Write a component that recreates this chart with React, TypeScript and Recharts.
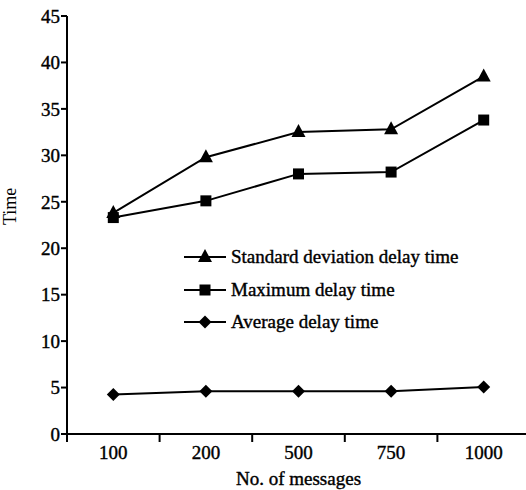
import { LineChart, Line, XAxis, YAxis, Legend } from "recharts"

const messages = ["100", "200", "500", "750", "1000"]
const stdDevDelay = [23.8, 29.8, 32.5, 32.8, 38.5]
const maxDelay = [23.3, 25.1, 28.0, 28.2, 33.8]
const avgDelay = [4.25, 4.6, 4.6, 4.6, 5.05]
const yTicks = [0, 5, 10, 15, 20, 25, 30, 35, 40, 45]

const series = [
  { key: "std", name: "Standard deviation delay time", shape: "triangle" },
  { key: "max", name: "Maximum delay time", shape: "square" },
  { key: "avg", name: "Average delay time", shape: "diamond" },
]

const data = messages.map((m, i) => ({
  messages: m,
  std: stdDevDelay[i],
  max: maxDelay[i],
  avg: avgDelay[i],
}))

const W = 530
const H = 490
const M = { top: 16, right: 0, bottom: 0, left: 0 }
const Y_W = 67
const X_H = 56
const FONT = "'Liberation Serif', 'Times New Roman', serif"
const band = (W - M.left - Y_W - M.right) / messages.length
const axisY = H - M.bottom - X_H
const heavy = { stroke: "#000", strokeWidth: 0.4 }

// marker glyph drawn around (cx, cy)
function Marker({ cx, cy, shape }: { cx: number; cy: number; shape: string }) {
  let d = ""
  if (shape === "triangle") d = `M${cx},${cy - 8}L${cx + 7},${cy + 5}L${cx - 7},${cy + 5}Z`
  else if (shape === "square") d = `M${cx - 5.5},${cy - 5.5}h11v11h-11Z`
  else d = `M${cx},${cy - 6.5}L${cx + 6.5},${cy}L${cx},${cy + 6.5}L${cx - 6.5},${cy}Z`
  return <path d={d} fill="#000" />
}

function XTick(props: any) {
  const { x, payload, index } = props
  return (
    <g>
      {index === 0 && <line x1={x - band / 2} x2={x - band / 2} y1={axisY} y2={axisY + 8} stroke="#000" strokeWidth={2} />}
      <line x1={x + band / 2} x2={x + band / 2} y1={axisY} y2={axisY + 8} stroke="#000" strokeWidth={2} />
      <text x={x} y={axisY + 25} textAnchor="middle" fontFamily={FONT} fontSize={19} fill="#000" {...heavy}>
        {payload.value}
      </text>
    </g>
  )
}

function LegendBox() {
  return (
    <div style={{ fontFamily: FONT, fontSize: 19, color: "#000", WebkitTextStroke: "0.4px #000" }}>
      {series.map((s) => (
        <div key={s.key} style={{ display: "flex", alignItems: "center", height: 32.5 }}>
          <svg width={48} height={20}>
            <line x1={1} x2={43} y1={10} y2={10} stroke="#000" strokeWidth={2} />
            <Marker cx={22} cy={10} shape={s.shape} />
          </svg>
          <span>{s.name}</span>
        </div>
      ))}
    </div>
  )
}

export default function App() {
  return (
    <div style={{ position: "absolute", left: 0, top: 0, width: 526, height: 490, overflow: "hidden", background: "#fff" }}>
      <LineChart width={W} height={H} data={data} margin={M}>
        <XAxis
          dataKey="messages"
          scale="band"
          height={X_H}
          axisLine={{ stroke: "#000", strokeWidth: 2 }}
          tickLine={false}
          tick={<XTick />}
          label={{ value: "No. of messages", position: "insideBottom", offset: 5, fontFamily: FONT, fontSize: 19, fill: "#000", ...heavy }}
        />
        <YAxis
          domain={[0, 45]}
          ticks={yTicks}
          width={Y_W}
          interval={0}
          axisLine={{ stroke: "#000", strokeWidth: 2 }}
          tickLine={{ stroke: "#000", strokeWidth: 2 }}
          tickSize={6}
          tickMargin={1}
          tick={{ fontFamily: FONT, fontSize: 19, fill: "#000", ...heavy }}
          label={{ value: "Time", angle: -90, position: "insideLeft", offset: 10, fontFamily: FONT, fontSize: 18, fill: "#000" }}
        />
        <Legend
          content={<LegendBox />}
          layout="vertical"
          align="center"
          verticalAlign="middle"
          wrapperStyle={{ left: 183, top: 241, width: 340 }}
        />
        {series.map((s) => (
          <Line
            key={s.key}
            dataKey={s.key}
            name={s.name}
            stroke="#000"
            strokeWidth={2}
            isAnimationActive={false}
            dot={(p: any) => <Marker key={`${s.key}-${p.index}`} cx={p.cx} cy={p.cy} shape={s.shape} />}
          />
        ))}
      </LineChart>
    </div>
  )
}
